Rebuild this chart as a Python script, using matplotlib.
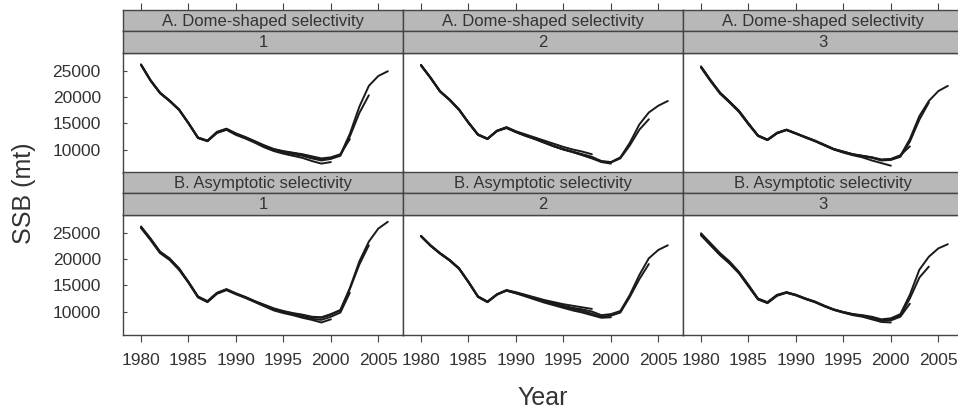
import matplotlib
matplotlib.use("Agg")
import matplotlib.pyplot as plt

# years of the assessment (1980-2006), each run stops at its own terminal year
years = list(range(1980, 2007))

row_titles = ["A. Dome-shaped selectivity", "B. Asymptotic selectivity"]
col_titles = ["1", "2", "3"]

# A. Dome-shaped selectivity, scenario 1
a1_2006 = [26300, 23300, 20900, 19400, 17700, 15100, 12300, 11700, 13300, 13900,
           13000, 12300, 11500, 10700, 10000, 9600, 9300, 9000, 8500, 8100,
           8400, 9000, 13000, 18200, 22200, 24100, 25000]
a1_2004 = [26200, 23200, 20800, 19300, 17600, 15000, 12200, 11600, 13200, 13800,
           12900, 12200, 11400, 10600, 9900, 9500, 9100, 8800, 8300, 7900,
           8200, 8800, 12500, 17000, 20400]
a1_2002 = [26300, 23300, 20900, 19400, 17700, 15100, 12300, 11700, 13400, 14000,
           13100, 12400, 11600, 10800, 10100, 9700, 9400, 9100, 8700, 8300,
           8500, 9100, 12000]
a1_2000 = [26200, 23200, 20800, 19300, 17600, 15000, 12200, 11600, 13200, 13800,
           12800, 12100, 11300, 10400, 9700, 9200, 8800, 8400, 7800, 7300, 7600]

# A. Dome-shaped selectivity, scenario 2
a2_2006 = [26200, 23800, 21200, 19600, 17700, 15200, 12900, 12100, 13600, 14200,
           13400, 12700, 12100, 11400, 10700, 10100, 9600, 9100, 8600, 7800,
           7600, 8500, 11300, 14800, 17100, 18400, 19300]
a2_2004 = [26100, 23700, 21100, 19500, 17600, 15100, 12800, 12000, 13500, 14100,
           13300, 12600, 12000, 11300, 10600, 10000, 9500, 9000, 8400, 7700,
           7500, 8300, 10800, 13800, 15800]
a2_2000 = [26200, 23800, 21200, 19600, 17700, 15200, 12900, 12100, 13600, 14200,
           13400, 12700, 12000, 11300, 10600, 10000, 9500, 8900, 8300, 7600, 7300]
a2_1998 = [26100, 23700, 21100, 19500, 17600, 15100, 12800, 12000, 13600, 14300,
           13500, 12900, 12300, 11700, 11100, 10500, 10000, 9600, 9100]

# A. Dome-shaped selectivity, scenario 3
a3_2006 = [25900, 23300, 20900, 19200, 17400, 15000, 12700, 11900, 13200, 13800,
           13100, 12400, 11700, 10900, 10100, 9600, 9100, 8800, 8500, 8000,
           8100, 8800, 12000, 16400, 19300, 21200, 22200]
a3_2004 = [25700, 23100, 20700, 19000, 17200, 14800, 12600, 11800, 13100, 13700,
           13000, 12300, 11600, 10800, 10000, 9500, 9000, 8700, 8400, 7900,
           8000, 8600, 11500, 15700, 19000]
a3_2002 = [25800, 23200, 20800, 19100, 17300, 14900, 12600, 11800, 13100, 13800,
           13100, 12400, 11700, 10900, 10100, 9600, 9100, 8800, 8500, 8100,
           8200, 8900, 10600]
a3_2000 = [25900, 23300, 20900, 19200, 17400, 15000, 12700, 11900, 13200, 13800,
           13100, 12300, 11600, 10800, 10000, 9400, 8900, 8500, 7900, 7400, 6900]

# B. Asymptotic selectivity, scenario 1
b1_2006 = [26300, 24000, 21500, 20200, 18300, 15700, 12900, 12000, 13600, 14300,
           13500, 12800, 12000, 11300, 10600, 10100, 9700, 9400, 9000, 8900,
           9500, 10300, 14500, 19600, 23400, 25900, 27200]
b1_2004 = [26100, 23800, 21300, 20000, 18100, 15600, 12800, 11900, 13500, 14200,
           13400, 12700, 11900, 11200, 10500, 10000, 9600, 9300, 8900, 8800,
           9400, 10200, 14300, 19000, 22700]
b1_2002 = [26200, 23900, 21400, 20100, 18200, 15600, 12800, 11900, 13500, 14200,
           13400, 12700, 11900, 11100, 10400, 9900, 9400, 9000, 8600, 8400,
           9000, 9800, 13600]
b1_2000 = [26000, 23700, 21200, 19900, 18000, 15500, 12700, 11800, 13400, 14100,
           13300, 12600, 11800, 11000, 10200, 9700, 9300, 8800, 8400, 7900, 8500]

# B. Asymptotic selectivity, scenario 2
b2_2006 = [24500, 22700, 21200, 19900, 18300, 15700, 12900, 11900, 13300, 14100,
           13600, 13100, 12500, 12000, 11600, 11100, 10700, 10400, 10000, 9300,
           9500, 10100, 13200, 17000, 20200, 21800, 22700]
b2_2004 = [24400, 22600, 21100, 19800, 18200, 15600, 12800, 11800, 13200, 14000,
           13500, 13000, 12400, 11900, 11400, 10900, 10500, 10100, 9600, 9000,
           9200, 9800, 12800, 16200, 19100]
b2_2000 = [24500, 22700, 21200, 19900, 18300, 15700, 12900, 11900, 13300, 14000,
           13500, 12900, 12300, 11700, 11200, 10700, 10200, 9800, 9300, 8800, 8900]
b2_1998 = [24400, 22600, 21100, 19800, 18200, 15600, 12800, 11800, 13300, 14100,
           13700, 13200, 12700, 12200, 11800, 11400, 11100, 10800, 10500]

# B. Asymptotic selectivity, scenario 3
b3_2006 = [25000, 23100, 21200, 19600, 17600, 15100, 12500, 11800, 13200, 13700,
           13200, 12500, 11900, 11100, 10400, 9900, 9500, 9300, 9000, 8500,
           8700, 9500, 13200, 18000, 20500, 22100, 22900]
b3_2004 = [24700, 22800, 20900, 19300, 17400, 14900, 12400, 11700, 13100, 13600,
           13100, 12400, 11800, 11000, 10300, 9800, 9400, 9200, 8800, 8300,
           8500, 9200, 12500, 16500, 18600]
b3_2002 = [24800, 22900, 21000, 19400, 17500, 15000, 12400, 11700, 13100, 13700,
           13200, 12500, 11900, 11100, 10400, 9900, 9500, 9200, 8800, 8200,
           8300, 9000, 11500]
b3_2000 = [24600, 22700, 20800, 19200, 17300, 14800, 12300, 11600, 13000, 13600,
           13100, 12400, 11800, 11000, 10300, 9800, 9300, 9000, 8500, 8000, 7900]

runs = [
    [[a1_2006, a1_2004, a1_2002, a1_2000],
     [a2_2006, a2_2004, a2_2000, a2_1998],
     [a3_2006, a3_2004, a3_2002, a3_2000]],
    [[b1_2006, b1_2004, b1_2002, b1_2000],
     [b2_2006, b2_2004, b2_2000, b2_1998],
     [b3_2006, b3_2004, b3_2002, b3_2000]],
]

x_ticks = [1980, 1985, 1990, 1995, 2000, 2005]
y_ticks = [10000, 15000, 20000, 25000]

plt.rcParams['font.family'] = ['Liberation Sans', 'DejaVu Sans']
txt = '#333333'
frame = '#444444'
strip_col = '#b8b8b8'

W, H = 958, 413
fig = plt.figure(figsize=(W / 100, H / 100), dpi=100)


def box(x0, y0, w, h):
    # pixel box (top-left origin) -> figure fraction
    return [x0 / W, 1 - (y0 + h) / H, w / W, h / H]


col_left = [123, 403, 683]
panel_w = 280
row_top = [10, 172]      # top of the first strip of each row
strip_h = 21
plot_h = 120

for r in range(2):
    for c in range(3):
        x0 = col_left[c]
        y_strip1 = row_top[r]
        y_strip2 = y_strip1 + strip_h
        y_plot = y_strip2 + strip_h + 1

        ax = fig.add_axes(box(x0, y_plot, panel_w, plot_h))
        for vals in runs[r][c]:
            ax.plot(years[:len(vals)], vals, color='#1a1a1a', lw=1.4,
                    solid_joinstyle='round', solid_capstyle='round')
        ax.set_xlim(1978.1, 2007.6)
        ax.set_ylim(5500, 28500)
        for s in ax.spines.values():
            s.set_color(frame)
            s.set_linewidth(1.0)
        ax.set_xticks(x_ticks)
        ax.set_yticks(y_ticks)
        ax.tick_params(axis='x', direction='out', length=5, width=0.8,
                       color=frame, labelsize=12.5, labelcolor=txt, pad=8,
                       bottom=(r == 1), labelbottom=(r == 1))
        ax.tick_params(axis='y', direction='in', length=3, width=0.8,
                       color=frame, labelsize=12.5, labelcolor=txt, pad=16,
                       left=(c == 0), labelleft=(c == 0))

        # two strips: selectivity type on top, scenario number below
        for k, (ys, label) in enumerate([(y_strip1, row_titles[r]),
                                         (y_strip2, col_titles[c])]):
            st = fig.add_axes(box(x0, ys, panel_w, strip_h + (1 if k else 0)))
            st.set_facecolor(strip_col)
            st.set_xlim(1978.1, 2007.6)
            st.set_ylim(0, 1)
            st.set_yticks([])
            for s in st.spines.values():
                s.set_color(frame)
                s.set_linewidth(1.0)
            st.text(0.5, 0.47, label, transform=st.transAxes, ha='center',
                    va='center', fontsize=12, color=txt)
            if r == 0 and k == 0:
                st.set_xticks(x_ticks)
                st.tick_params(axis='x', direction='out', length=5, width=0.8,
                               color=frame, bottom=False, labelbottom=False,
                               top=True, labeltop=False)
            else:
                st.set_xticks([])

fig.text(24 / W, 1 - 193 / H, "SSB (mt)", rotation=90, ha='center',
         va='center', fontsize=18, color=txt)
fig.text(543 / W, 1 - 398 / H, "Year", ha='center', va='center',
         fontsize=18, color=txt)

fig.savefig("out.png", dpi=100)
